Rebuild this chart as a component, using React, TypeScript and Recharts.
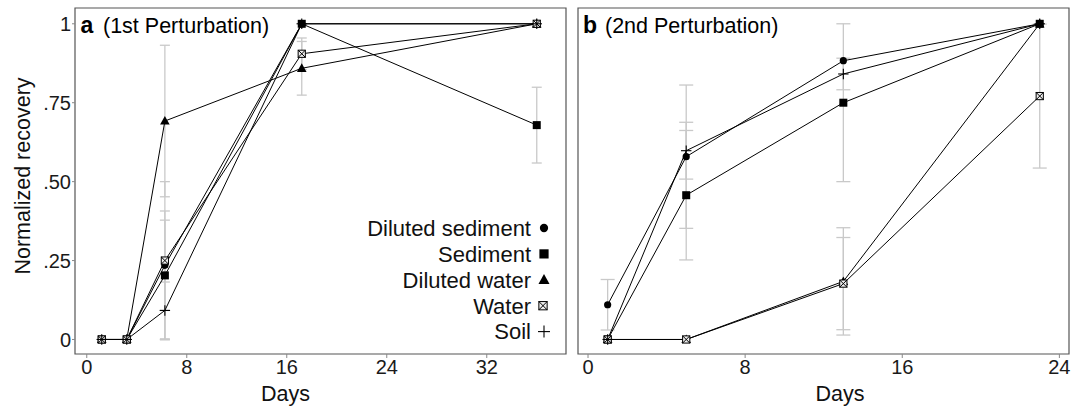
import React from 'react';
import { Legend, Line, LineChart, ReferenceArea, ErrorBar, XAxis, YAxis } from 'recharts';

// panel a (1st perturbation)
const daysA = [1.2, 3.2, 6.25, 17.2, 36];
const dilSedA = [0, 0, 0.235, 1, 1];
const sedA = [0, 0, 0.203, 1, 0.679];
const dilWatA = [0, 0, 0.692, 0.859, 1];
const watA = [0, 0, 0.25, 0.905, 1];
const soilA = [0, 0, 0.092, 1, 1];
const dilSedErrA = [0, 0, 0.143, 0, 0];
const sedErrA = [0, 0, 0.204, 0, 0.12];
const dilWatErrA = [0, 0, 0.24, 0.085, 0];
const watErrA = [0, 0, 0.25, 0.05, 0];
const soilErrA = [0, 0, 0.09, 0, 0];

// panel b (2nd perturbation)
const daysB = [1, 5, 13, 23];
const dilSedB = [0.11, 0.579, 0.883, 1];
const sedB = [0, 0.457, 0.75, 1];
const dilWatB = [0, 0, 0.184, 1];
const watB = [0, 0, 0.177, 0.771];
const soilB = [0, 0.598, 0.841, 1];
const dilSedErrB = [0.08, 0.227, 0, 0];
const sedErrB = [0, 0.205, 0.25, 0];
const dilWatErrB = [0, 0, 0.17, 0];
const watErrB = [0, 0, 0.146, 0.228];
const soilErrB = [0, 0.09, 0.05, 0];

const seriesKeys = ['ds', 'sed', 'dw', 'wat', 'soil'];
const seriesNames = ['Diluted sediment', 'Sediment', 'Diluted water', 'Water', 'Soil'];
const ticksA = [0, 8, 16, 24, 32];
const ticksB = [0, 8, 16, 24];
const ticksY = [0, 0.25, 0.5, 0.75, 1];

const rowsA = daysA.map((d, i) => ({
  day: d,
  ds: dilSedA[i], sed: sedA[i], dw: dilWatA[i], wat: watA[i], soil: soilA[i],
  dsErr: dilSedErrA[i], sedErr: sedErrA[i], dwErr: dilWatErrA[i], watErr: watErrA[i], soilErr: soilErrA[i],
}));
const rowsB = daysB.map((d, i) => ({
  day: d,
  ds: dilSedB[i], sed: sedB[i], dw: dilWatB[i], wat: watB[i], soil: soilB[i],
  dsErr: dilSedErrB[i], sedErr: sedErrB[i], dwErr: dilWatErrB[i], watErr: watErrB[i], soilErr: soilErrB[i],
}));

const domY: [number, number] = [-0.046, 1.05];
const domA: [number, number] = [-0.94, 38.34];
const domB: [number, number] = [-0.51, 24.49];

const FONT = '"Liberation Sans", Arial, sans-serif';
const ERR = '#c9c9c9';
const FRAME = '#555';

const Marker = ({ kind, cx, cy, k = 1 }: { kind: string; cx: number; cy: number; k?: number }) => {
  if (cx == null || cy == null) return null;
  if (kind === 'ds') return <circle cx={cx} cy={cy} r={3.6 * k} fill="#000" />;
  if (kind === 'sed') {
    const h = 4 * k;
    return <rect x={cx - h} y={cy - h} width={2 * h} height={2 * h} fill="#000" />;
  }
  if (kind === 'dw') {
    const w = 4.8 * k;
    return <polygon points={`${cx},${cy - 5 * k} ${cx - w},${cy + 3.6 * k} ${cx + w},${cy + 3.6 * k}`} fill="#000" />;
  }
  if (kind === 'wat') {
    const h = 3.6 * k;
    return (
      <g stroke="#000" strokeWidth={1}>
        <rect x={cx - h} y={cy - h} width={2 * h} height={2 * h} fill="#eee" />
        <line x1={cx - h} y1={cy - h} x2={cx + h} y2={cy + h} />
        <line x1={cx - h} y1={cy + h} x2={cx + h} y2={cy - h} />
      </g>
    );
  }
  const h = 5.2 * k;
  return (
    <g stroke="#000" strokeWidth={1.1}>
      <line x1={cx - h} y1={cy} x2={cx + h} y2={cy} />
      <line x1={cx} y1={cy - h} x2={cx} y2={cy + h} />
    </g>
  );
};

const legendContent = (props: any) => {
  // only the visible series carry a display name; the error-bar carriers are skipped
  const items = (props.payload || [])
    .filter((p: any) => seriesNames.includes(p.value))
    .sort((a: any, b: any) => seriesNames.indexOf(a.value) - seriesNames.indexOf(b.value));
  return (
    <svg width={262} height={140} style={{ fontFamily: FONT, overflow: 'visible' }}>
      {items.map((p: any, i: number) => {
        const cy = 16 + i * 25.9;
        return (
          <g key={p.value}>
            <text x={231} y={cy + 7.8} textAnchor="end" fontSize={22} fill="#111">{p.value}</text>
            <Marker kind={p.dataKey} cx={p.dataKey === 'wat' ? 243 : 244} cy={cy} k={1.15} />
          </g>
        );
      })}
    </svg>
  );
};

const renderSeries = (uid: string, capW: number) => [
  // error bars first so they sit under every line
  ...seriesKeys.map((key) => (
    <Line key={`${uid}-e-${key}`} dataKey={key} stroke="none" dot={false} activeDot={false}
      legendType="none" isAnimationActive={false}>
      <ErrorBar dataKey={`${key}Err`} direction="y" width={capW} stroke={ERR} strokeWidth={1.3} />
    </Line>
  )),
  ...seriesKeys.map((key, i) => (
    <Line key={`${uid}-${key}`} type="linear" dataKey={key} name={seriesNames[i]} stroke="#000"
      strokeWidth={1} isAnimationActive={false} activeDot={false}
      dot={(p: any) => <Marker key={`${uid}-${key}-${p.index}`} kind={key} cx={p.cx} cy={p.cy} />} />
  )),
];

const tickStyle = { fontSize: 20, fill: '#1a1a1a' };

export default function App() {
  return (
    <div style={{ position: 'absolute', left: 0, top: 0, width: 1084, height: 410, background: '#fff', fontFamily: FONT }}>
      <div style={{ position: 'absolute', left: 0, top: 0 }}>
        <LineChart width={570} height={410} data={rowsA} margin={{ top: 8, right: 4, bottom: 0, left: 0 }}>
          <XAxis dataKey="day" type="number" domain={domA} ticks={ticksA} allowDataOverflow interval={0}
            axisLine={false} tickLine={{ stroke: '#888' }} tickSize={4} tickMargin={2} tick={tickStyle} height={56} />
          <YAxis type="number" domain={domY} ticks={ticksY} allowDataOverflow interval={0} width={75}
            axisLine={false} tickLine={{ stroke: '#888' }} tickSize={3} tickMargin={1} tick={tickStyle}
            tickFormatter={(v: number) => (v === 0 ? '0' : v === 1 ? '1' : v.toFixed(2).replace(/^0/, ''))} />
          <ReferenceArea x1={domA[0]} x2={domA[1]} y1={domY[0]} y2={domY[1]} fill="none" stroke={FRAME}
            strokeWidth={1.2} ifOverflow="visible" />
          {renderSeries('a', 5)}
          <Legend layout="horizontal" verticalAlign="middle" align="center" content={legendContent}
            wrapperStyle={{ left: 300, top: 212, width: 262, height: 140 }} />
        </LineChart>
      </div>
      <div style={{ position: 'absolute', left: 570, top: 0 }}>
        <LineChart width={514} height={410} data={rowsB} margin={{ top: 8, right: 15, bottom: 0, left: 8 }}>
          <XAxis dataKey="day" type="number" domain={domB} ticks={ticksB} allowDataOverflow interval={0}
            axisLine={false} tickLine={{ stroke: '#888' }} tickSize={4} tickMargin={2} tick={tickStyle} height={56} />
          <YAxis type="number" domain={domY} allowDataOverflow hide />
          <ReferenceArea x1={domB[0]} x2={domB[1]} y1={domY[0]} y2={domY[1]} fill="none" stroke={FRAME}
            strokeWidth={1.2} ifOverflow="visible" />
          {renderSeries('b', 7)}
        </LineChart>
      </div>
      <svg width={1084} height={410} style={{ position: 'absolute', left: 0, top: 0, pointerEvents: 'none' }}>
        <text x={23} y={176} transform="rotate(-90 23 176)" textAnchor="middle" dominantBaseline="central"
          fontSize={21.5} fill="#111">Normalized recovery</text>
        <text x={285.5} y={400.5} textAnchor="middle" fontSize={21.5} fill="#111">Days</text>
        <text x={840} y={400.5} textAnchor="middle" fontSize={21.5} fill="#111">Days</text>
        <text x={80.5} y={33} fontSize={23} fontWeight="bold" fill="#000">a</text>
        <text x={103} y={33} fontSize={21.5} fill="#000">(1st Perturbation)</text>
        <text x={583} y={33} fontSize={23} fontWeight="bold" fill="#000">b</text>
        <text x={605} y={33} fontSize={21.5} fill="#000">(2nd Perturbation)</text>
      </svg>
    </div>
  );
}
